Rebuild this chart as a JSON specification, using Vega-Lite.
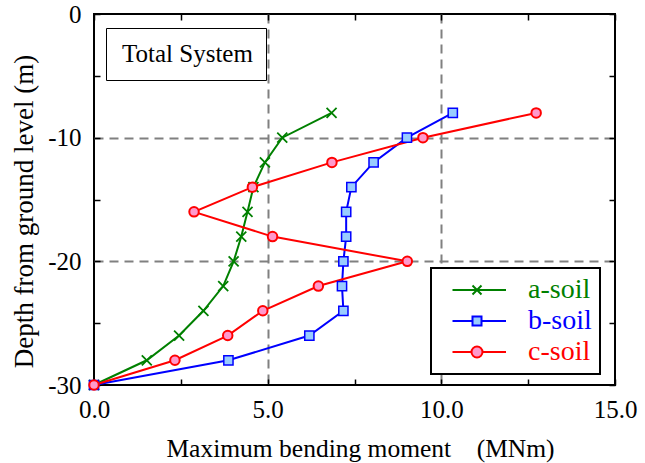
{
  "$schema": "https://vega.github.io/schema/vega-lite/v6.json",
  "width": 521,
  "height": 371,
  "autosize": {"type": "none"},
  "padding": {"left": 94, "top": 14, "right": 30, "bottom": 78},
  "background": "white",
  "config": {
    "view": {"stroke": "black", "strokeWidth": 2},
    "axis": {
      "labelColor": "black",
      "titleColor": "black",
      "labelFontSize": 25,
      "titleFontSize": 25.5,
      "titleFontWeight": "normal",
      "domain": false,
      "tickColor": "black",
      "tickWidth": 1.5,
      "tickSize": -6,
      "labelFlush": false,
      "labelOverlap": false,
      "gridColor": "#808080",
      "gridWidth": 2,
      "gridDash": [9, 6]
    }
  },
  "datasets": {
    "profiles": [
      {"soil": "a-soil", "depth": -8, "moment": 6.84},
      {"soil": "a-soil", "depth": -10, "moment": 5.42},
      {"soil": "a-soil", "depth": -12, "moment": 4.92},
      {"soil": "a-soil", "depth": -14, "moment": 4.59},
      {"soil": "a-soil", "depth": -16, "moment": 4.42},
      {"soil": "a-soil", "depth": -18, "moment": 4.24},
      {"soil": "a-soil", "depth": -20, "moment": 4.02},
      {"soil": "a-soil", "depth": -22, "moment": 3.72},
      {"soil": "a-soil", "depth": -24, "moment": 3.15},
      {"soil": "a-soil", "depth": -26, "moment": 2.45},
      {"soil": "a-soil", "depth": -28, "moment": 1.52},
      {"soil": "a-soil", "depth": -30, "moment": 0},
      {"soil": "b-soil", "depth": -8, "moment": 10.33},
      {"soil": "b-soil", "depth": -10, "moment": 9.01},
      {"soil": "b-soil", "depth": -12, "moment": 8.05},
      {"soil": "b-soil", "depth": -14, "moment": 7.41},
      {"soil": "b-soil", "depth": -16, "moment": 7.26},
      {"soil": "b-soil", "depth": -18, "moment": 7.26},
      {"soil": "b-soil", "depth": -20, "moment": 7.18},
      {"soil": "b-soil", "depth": -22, "moment": 7.14},
      {"soil": "b-soil", "depth": -24, "moment": 7.18},
      {"soil": "b-soil", "depth": -26, "moment": 6.2},
      {"soil": "b-soil", "depth": -28, "moment": 3.87},
      {"soil": "b-soil", "depth": -30, "moment": 0},
      {"soil": "c-soil", "depth": -8, "moment": 12.73},
      {"soil": "c-soil", "depth": -10, "moment": 9.47},
      {"soil": "c-soil", "depth": -12, "moment": 6.85},
      {"soil": "c-soil", "depth": -14, "moment": 4.56},
      {"soil": "c-soil", "depth": -16, "moment": 2.88},
      {"soil": "c-soil", "depth": -18, "moment": 5.14},
      {"soil": "c-soil", "depth": -20, "moment": 9.02},
      {"soil": "c-soil", "depth": -22, "moment": 6.46},
      {"soil": "c-soil", "depth": -24, "moment": 4.86},
      {"soil": "c-soil", "depth": -26, "moment": 3.85},
      {"soil": "c-soil", "depth": -28, "moment": 2.33},
      {"soil": "c-soil", "depth": -30, "moment": 0}
    ],
    "panel": [{"panel": "Total System"}]
  },
  "layer": [
    {
      "data": {"name": "profiles"},
      "mark": {"type": "line", "strokeWidth": 2},
      "encoding": {
        "x": {
          "field": "moment",
          "type": "quantitative",
          "scale": {"domain": [0, 15], "nice": false, "zero": false},
          "axis": {
            "orient": "bottom",
            "values": [0, 2.5, 5, 7.5, 10, 12.5, 15],
            "labelExpr": "datum.value % 5 === 0 ? format(datum.value, '.1f') : ''",
            "labelFont": "Liberation Serif, serif",
            "labelPadding": 18,
            "grid": true,
            "gridOpacity": {"condition": {"test": "datum.value === 5 || datum.value === 10", "value": 1}, "value": 0},
            "title": "Maximum bending moment\u00a0\u00a0\u00a0\u00a0(MNm)",
            "titleFont": "Liberation Serif, serif",
            "titleX": 266,
            "titleY": 71,
            "titleAlign": "center",
            "titleBaseline": "alphabetic"
          }
        },
        "y": {
          "field": "depth",
          "type": "quantitative",
          "scale": {"domain": [-30, 0], "nice": false, "zero": false},
          "axis": {
            "orient": "left",
            "values": [0, -5, -10, -15, -20, -25, -30],
            "labelExpr": "datum.value % 10 === 0 ? (datum.value < 0 ? '-' + format(-datum.value, 'd') : '0') : ''",
            "labelFont": "Liberation Serif, serif",
            "labelPadding": 19,
            "grid": true,
            "gridOpacity": {"condition": {"test": "datum.value === -10 || datum.value === -20", "value": 1}, "value": 0},
            "title": "Depth from ground level (m)",
            "titleFont": "Liberation Serif, serif",
            "titleFontSize": 27,
            "titleX": -62,
            "titleY": 197,
            "titleAngle": 270,
            "titleAlign": "center",
            "titleBaseline": "alphabetic"
          }
        },
        "stroke": {
          "field": "soil",
          "type": "nominal",
          "scale": {"domain": ["a-soil", "b-soil", "c-soil"], "range": ["#008000", "#0000ff", "#ff0000"]},
          "legend": {
            "orient": "none",
            "legendX": 337,
            "legendY": 254,
            "title": null,
            "labelFont": "Liberation Serif, serif",
            "labelFontSize": 28,
            "labelOffset": 61,
            "labelLimit": 300,
            "padding": 8,
            "rowPadding": 3,
            "strokeColor": "black",
            "fillColor": "white",
            "symbolSize": 100,
            "symbolStrokeWidth": 2,
            "encode": {
              "legend": {"update": {"strokeWidth": {"value": 2}}},
              "symbols": {
                "update": {
                  "shape": {"signal": "datum.value === 'a-soil' ? 'M-0.1,0H10.6M3.9,-0.9L5.7,0.9M3.9,0.9L5.7,-0.9' : datum.value === 'b-soil' ? 'M-0.1,0H3.9M5.7,0H10.6M3.9,-0.9H5.7V0.9H3.9Z' : 'M-0.1,0H3.7M5.9,0H10.6M3.7,0A1.1,1.1,0,1,0,5.9,0A1.1,1.1,0,1,0,3.7,0Z'"},
                  "size": {"value": 100},
                  "strokeWidth": {"value": 2},
                  "fill": {"signal": "datum.value === 'a-soil' ? 'transparent' : datum.value === 'b-soil' ? '#99ccff' : '#ff99cc'"},
                  "opacity": {"value": 1}
                }
              },
              "labels": {
                "update": {
                  "text": {"signal": "datum.label + '\u00a0'"},
                  "fill": {"scale": "stroke", "field": "value"},
                  "font": {"value": "Liberation Serif"}
                }
              }
            }
          }
        },
        "order": {"field": "depth", "type": "quantitative"}
      }
    },
    {
      "data": {"name": "profiles"},
      "transform": [{"filter": "datum.soil === 'a-soil'"}],
      "mark": {"type": "point", "shape": "M-1,-1L1,1M-1,1L1,-1", "filled": false, "size": 100, "strokeWidth": 1.8, "opacity": 1, "stroke": "#008000"},
      "encoding": {
        "x": {
          "field": "moment",
          "type": "quantitative",
          "scale": {"domain": [0, 15], "nice": false, "zero": false},
          "axis": {"orient": "top", "values": [0, 2.5, 5, 7.5, 10, 12.5, 15], "labels": false, "grid": false, "title": null}
        },
        "y": {
          "field": "depth",
          "type": "quantitative",
          "scale": {"domain": [-30, 0], "nice": false, "zero": false},
          "axis": {"orient": "right", "values": [0, -5, -10, -15, -20, -25, -30], "labels": false, "grid": false, "title": null}
        }
      }
    },
    {
      "data": {"name": "profiles"},
      "transform": [{"filter": "datum.soil === 'b-soil'"}],
      "mark": {"type": "point", "shape": "square", "filled": true, "size": 85, "strokeWidth": 1.5, "opacity": 1, "fill": "#99ccff", "stroke": "#0000ff"},
      "encoding": {
        "x": {"field": "moment", "type": "quantitative", "axis": null},
        "y": {"field": "depth", "type": "quantitative", "axis": null}
      }
    },
    {
      "data": {"name": "profiles"},
      "transform": [{"filter": "datum.soil === 'c-soil'"}],
      "mark": {"type": "point", "shape": "circle", "filled": true, "size": 90, "strokeWidth": 2, "opacity": 1, "fill": "#ff99cc", "stroke": "#ff0000"},
      "encoding": {
        "x": {"field": "moment", "type": "quantitative", "axis": null},
        "y": {"field": "depth", "type": "quantitative", "axis": null}
      }
    },
    {
      "data": {"name": "panel"},
      "mark": {"type": "point", "size": 0, "strokeWidth": 0},
      "encoding": {
        "opacity": {
          "field": "panel",
          "type": "nominal",
          "scale": {"range": [0]},
          "legend": {
            "orient": "none",
            "legendX": 12,
            "legendY": 14,
            "title": null,
            "labelFont": "Liberation Serif, serif",
            "labelFontSize": 25,
            "labelColor": "black",
            "labelLimit": 400,
            "labelOffset": -22,
            "padding": 13,
            "strokeColor": "black",
            "fillColor": "white",
            "symbolSize": 0,
            "symbolOpacity": 0,
            "symbolStrokeWidth": 0,
            "encode": {
              "legend": {"update": {"strokeWidth": {"value": 1.5}}},
              "labels": {"update": {"text": {"signal": "datum.label + '\u00a0'"}, "font": {"value": "Liberation Serif"}}}
            }
          }
        }
      }
    }
  ]
}
